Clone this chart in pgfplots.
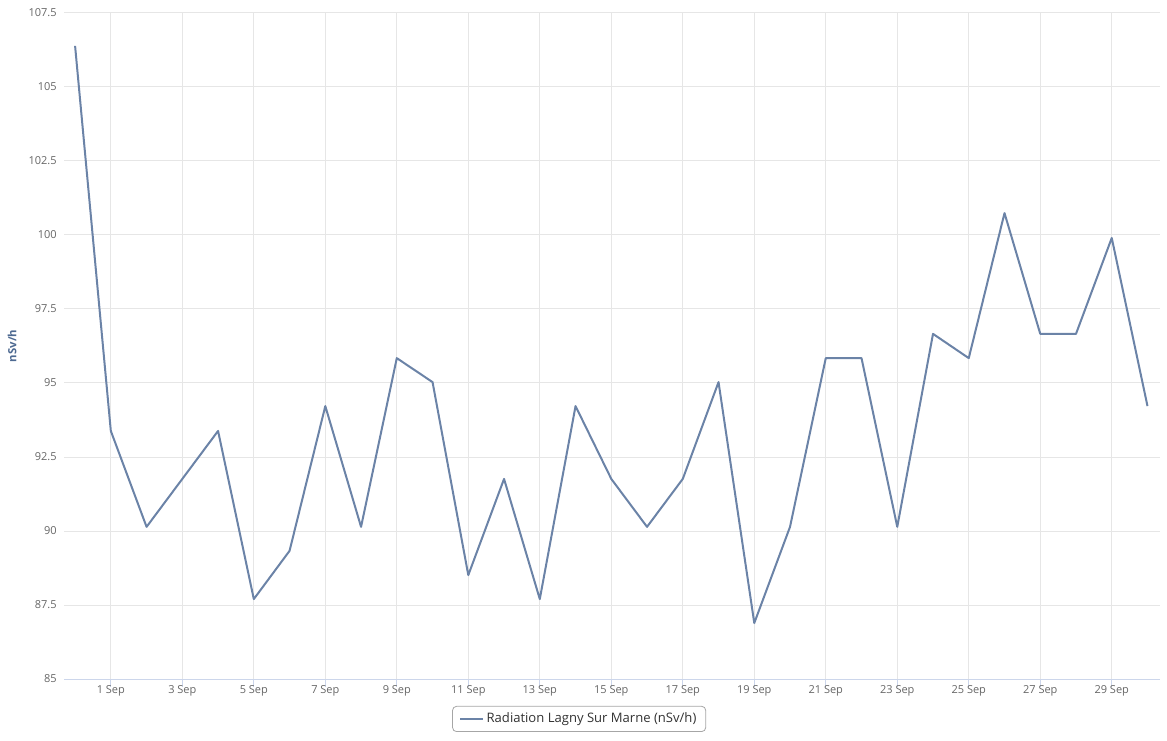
\documentclass[border=0pt]{standalone}
\usepackage{fontspec}
\setmainfont{Open Sans}
\usepackage{pgfplots}
\pgfplotsset{compat=1.18}
\definecolor{lineblue}{RGB}{107,131,167}
\definecolor{gridgray}{RGB}{230,230,230}
\definecolor{axisline}{RGB}{204,214,235}
\definecolor{ticktext}{RGB}{102,102,102}
\definecolor{titleblue}{RGB}{77,105,145}

\begin{document}
\begin{tikzpicture}
\path[use as bounding box] (0,0) rectangle (875.25pt,555pt);
\begin{axis}[
    at={(48pt,45.75pt)}, anchor=south west,
    scale only axis,
    width=822pt, height=499.5pt,
    xmin=-0.31, xmax=30.35,
    ymin=85, ymax=107.5,
    xtick={1,3,...,29},
    xticklabels={1 Sep,3 Sep,5 Sep,7 Sep,9 Sep,11 Sep,13 Sep,15 Sep,17 Sep,19 Sep,21 Sep,23 Sep,25 Sep,27 Sep,29 Sep},
    ytick={85,87.5,...,107.5},
    yticklabel={\pgfmathprintnumber[fixed,precision=1]{\tick}},
    /pgf/number format/assume math mode=true,
    grid=major,
    major grid style={gridgray, line width=0.75pt},
    axis x line*=bottom,
    axis y line*=left,
    x axis line style={axisline, line width=0.75pt},
    y axis line style={draw=none},
    xtick style={axisline, line width=0.75pt},
    ytick style={draw=none},
    xtick align=outside,
    major tick length=6pt,
    tick label style={font=\fontsize{8.25}{10}\selectfont, text=ticktext},
    xticklabel style={yshift=5pt},
    yticklabel style={xshift=-2pt},
    ylabel={\bfseries nSv/h},
    ylabel style={font=\fontsize{8.5}{10}\selectfont, text=titleblue, anchor=center, at={(axis description cs:-0.0474,0.5)}},
    clip=false,
    legend style={
        at={(axis description cs:0.470,-0.060)}, anchor=center,
        draw=gray!70, rounded corners=3pt, line width=0.6pt,
        font=\fontsize{9.8}{12}\selectfont, text=black!80,
        inner xsep=5pt, inner ysep=3pt,
    },
    legend cell align=left,
]
\addplot[color=lineblue, line width=1.5pt, line join=round] coordinates {
(0,106.39) (1,93.38) (2,90.14) (3,91.76) (4,93.38) (5,87.70) (6,89.33)
(7,94.22) (8,90.14) (9,95.84) (10,95.03) (11,88.51) (12,91.76) (13,87.70)
(14,94.22) (15,91.76) (16,90.14) (17,91.76) (18,95.03) (19,86.89) (20,90.14)
(21,95.84) (22,95.84) (23,90.14) (24,96.66) (25,95.84) (26,100.74) (27,96.66)
(28,96.66) (29,99.90) (30,94.22)
};
\addlegendentry{Radiation Lagny Sur Marne (nSv/h)}
\end{axis}
\end{tikzpicture}
\end{document}
